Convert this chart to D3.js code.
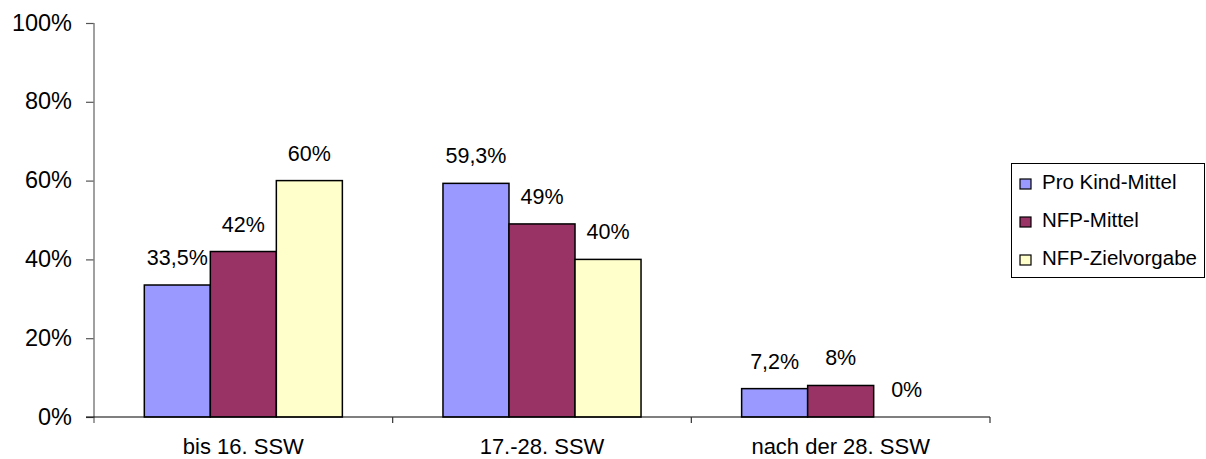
<!DOCTYPE html>
<html>
<head>
<meta charset="utf-8">
<script src="https://cdn.jsdelivr.net/npm/d3@7"></script>
<style>
  html, body { margin: 0; padding: 0; background: #fff; }
  svg { display: block; font-family: "Liberation Sans", Arial, sans-serif; }
</style>
</head>
<body>
<svg id="chart" width="1206" height="459"></svg>
<script>
// Zeitpunkt des Programmeintritts nach Schwangerschaftswoche
const categories = ["bis 16. SSW", "17.-28. SSW", "nach der 28. SSW"];
const seriesNames = ["Pro Kind-Mittel", "NFP-Mittel", "NFP-Zielvorgabe"];
const proKindMittel = [0.335, 0.593, 0.072];
const nfpMittel = [0.42, 0.49, 0.08];
const nfpZielvorgabe = [0.60, 0.40, 0.0];
const yTicks = [0, 0.2, 0.4, 0.6, 0.8, 1.0];
const seriesColors = ["#9999FF", "#993366", "#FFFFCC"];

const seriesValues = [proKindMittel, nfpMittel, nfpZielvorgabe];

const svg = d3.select("#chart");
const plot = { left: 94, right: 990, top: 23, bottom: 417 };

const y = d3.scaleLinear().domain([0, 1]).range([plot.bottom, plot.top]);
const x0 = d3.scaleBand().domain(categories).range([plot.left, plot.right]).padding(0);
const x1 = d3.scaleBand().domain(seriesNames).range([0, x0.bandwidth()])
  .paddingInner(0).paddingOuter(0.762);
const color = d3.scaleOrdinal().domain(seriesNames).range(seriesColors);

// German number format: comma as decimal separator, decimals only when needed
const de = d3.formatLocale({ decimal: ",", thousands: ".", grouping: [3], currency: ["", " €"] });
const fmtInt = de.format(".0f");
const fmtDec = de.format(".1f");
const pct = v => {
  const p = Math.round(v * 1000) / 10;
  return (Number.isInteger(p) ? fmtInt(p) : fmtDec(p)) + "%";
};

const rows = categories.flatMap((c, ci) =>
  seriesNames.map((s, si) => ({ cat: c, series: s, value: seriesValues[si][ci] })));

// Y axis
const yAxis = d3.axisLeft(y).tickValues(yTicks).tickFormat(d3.format(".0%"))
  .tickSize(8).tickPadding(14).tickSizeOuter(0);
const gy = svg.append("g").attr("transform", `translate(${plot.left},0)`).call(yAxis);
gy.select(".domain").remove();
gy.selectAll(".tick line").attr("stroke", "#555").attr("stroke-width", 1.2);
gy.selectAll(".tick text").attr("font-size", 23.5).attr("fill", "#000")
  .attr("font-family", "Liberation Sans, Arial, sans-serif").attr("dy", "0.3em");
svg.append("line")
  .attr("x1", plot.left).attr("x2", plot.left)
  .attr("y1", y(1)).attr("y2", y(0) + 6)
  .attr("stroke", "#808080").attr("stroke-width", 1.5);

// Bars
svg.append("g").selectAll("rect")
  .data(rows.filter(d => d.value > 0))
  .join("rect")
  .attr("x", d => x0(d.cat) + x1(d.series))
  .attr("y", d => y(d.value))
  .attr("width", x1.bandwidth())
  .attr("height", d => y(0) - y(d.value))
  .attr("fill", d => color(d.series))
  .attr("stroke", "#000")
  .attr("stroke-width", 1.5);

// X axis line and category separators
svg.append("line")
  .attr("x1", plot.left - 8).attr("x2", plot.right)
  .attr("y1", y(0)).attr("y2", y(0))
  .attr("stroke", "#000").attr("stroke-width", 1.2);
svg.append("g").selectAll("line")
  .data(categories)
  .join("line")
  .attr("x1", d => x0(d) + x0.bandwidth()).attr("x2", d => x0(d) + x0.bandwidth())
  .attr("y1", y(0)).attr("y2", y(0) + 6)
  .attr("stroke", "#333").attr("stroke-width", 1.2);

// Category labels
svg.append("g").selectAll("text")
  .data(categories)
  .join("text")
  .attr("x", d => x0(d) + x0.bandwidth() / 2)
  .attr("y", y(0) + 37)
  .attr("text-anchor", "middle")
  .attr("font-size", 22)
  .text(d => d);

// Value labels
svg.append("g").selectAll("text")
  .data(rows)
  .join("text")
  .attr("x", d => x0(d.cat) + x1(d.series) + x1.bandwidth() / 2)
  .attr("y", d => y(d.value) - 20)
  .attr("text-anchor", "middle")
  .attr("font-size", 21.5)
  .text(d => pct(d.value));

// Legend
const legend = svg.append("g").attr("transform", "translate(1011,163)");
legend.append("rect")
  .attr("x", 0.5).attr("y", 0.5).attr("width", 193).attr("height", 114)
  .attr("fill", "#fff").attr("stroke", "#000").attr("stroke-width", 1);
const items = legend.selectAll("g.item")
  .data(seriesNames)
  .join("g")
  .attr("class", "item")
  .attr("transform", (d, i) => `translate(0,${16 + i * 38})`);
items.append("rect")
  .attr("x", 9).attr("y", 0).attr("width", 11).attr("height", 10)
  .attr("fill", d => color(d)).attr("stroke", "#000").attr("stroke-width", 1.2);
items.append("text")
  .attr("x", 31).attr("y", 10)
  .attr("font-size", 20.5)
  .text(d => d);
</script>
</body>
</html>
